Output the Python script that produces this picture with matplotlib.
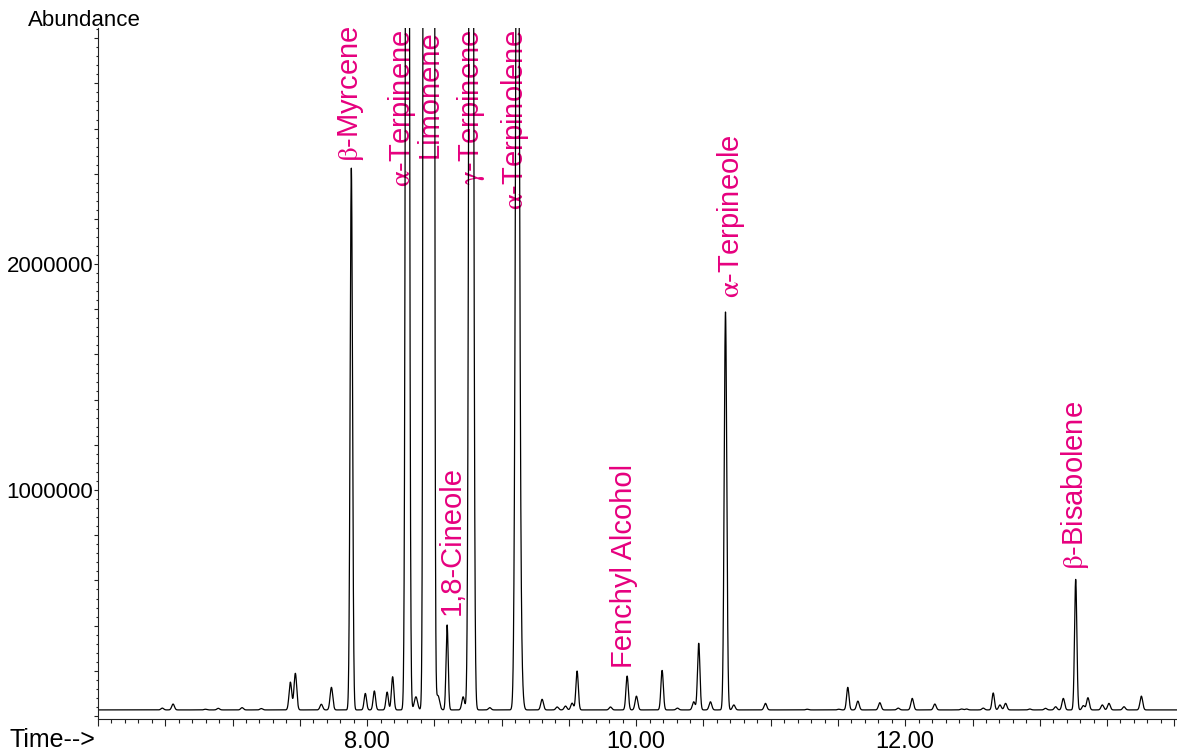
import numpy as np
import matplotlib.pyplot as plt
import matplotlib.transforms as mtransforms
from matplotlib.ticker import MultipleLocator, FuncFormatter

plt.rcParams['font.family'] = ['Liberation Sans', 'DejaVu Sans']
plt.rcParams['mathtext.fontset'] = 'stix'

# peak table: retention time (min), apex abundance, sigma (min)
peak_rt = [6.478, 6.558, 6.798, 6.894, 7.071, 7.214, 7.430, 7.467, 7.660, 7.735,
           7.883, 7.987, 8.054, 8.149, 8.190, 8.300, 8.363, 8.459, 8.527, 8.595,
           8.714, 8.774, 8.912, 9.118, 9.145, 9.301, 9.413, 9.475, 9.524, 9.561,
           9.809, 9.933, 10.002, 10.193, 10.307, 10.428, 10.465, 10.552, 10.664, 10.726,
           10.961, 11.271, 11.506, 11.573, 11.648, 11.811, 11.948, 12.052, 12.220, 12.419,
           12.456, 12.580, 12.654, 12.704, 12.746, 12.926, 13.043, 13.118, 13.175, 13.267,
           13.324, 13.358, 13.465, 13.514, 13.626, 13.755]
peak_abund = [35000, 53000, 30000, 34000, 37000, 33000, 150000, 189000, 52000, 127000,
              2425000, 100000, 111000, 106000, 174000, 9800000, 85000, 1.0e9, 90000, 403000,
              85000, 1.0e7, 37000, 4.9e6, 180000, 74000, 40000, 44000, 57000, 199000,
              40000, 177000, 88000, 202000, 35000, 63000, 322000, 63000, 1788000, 49000,
              56000, 30000, 30000, 127000, 66000, 59000, 35000, 78000, 53000, 31000,
              31000, 35000, 102000, 49000, 56000, 31000, 34000, 41000, 78000, 605000,
              46000, 81000, 49000, 56000, 41000, 88000]
peak_sigma = [0.010, 0.010, 0.010, 0.010, 0.010, 0.010, 0.010, 0.010, 0.010, 0.010,
              0.0088, 0.009, 0.009, 0.009, 0.009, 0.0104, 0.012, 0.013, 0.012, 0.008,
              0.010, 0.012, 0.010, 0.0128, 0.012, 0.010, 0.010, 0.010, 0.010, 0.009,
              0.010, 0.009, 0.010, 0.009, 0.010, 0.010, 0.009, 0.010, 0.0095, 0.010,
              0.010, 0.010, 0.010, 0.009, 0.010, 0.010, 0.010, 0.010, 0.010, 0.010,
              0.010, 0.010, 0.009, 0.010, 0.010, 0.010, 0.010, 0.010, 0.010, 0.0085,
              0.010, 0.010, 0.010, 0.010, 0.010, 0.010]
baseline = 27000

# labelled compounds
label_names = [r'$\mathrm{\beta}$-Myrcene', r'$\mathrm{\alpha}$-Terpinene', 'Limonene',
               '1,8-Cineole', r'$\mathrm{\gamma}$-Terpinene', r'$\mathrm{\alpha}$-Terpinolene',
               'Fenchyl Alcohol', r'$\mathrm{\alpha}$-Terpineole', r'$\mathrm{\beta}$-Bisabolene']
label_rt = [7.883, 8.300, 8.459, 8.595, 8.774, 9.118, 9.933, 10.664, 13.267]

# label tweaks in pixels (dx, gap above apex)
label_dx = [0, -5, 0.5, 5, 0, -2, -3, 6, -1]
label_gap = [6, 0, 0, 10, 0, 0, 8, 14, 9]

magenta = '#e6007e'
ymin, ymax = -11000, 3.045e6

t = np.linspace(6.0, 14.02, 12000)
signal = np.full_like(t, baseline, dtype=float)
for rt, a, s in zip(peak_rt, peak_abund, peak_sigma):
    signal += (a - baseline) * np.exp(-0.5 * ((t - rt) / s) ** 2)

fig = plt.figure(figsize=(11.77, 7.52), dpi=100)
ax = fig.add_axes([98 / 1177, (752 - 718.5) / 752, 1 - 98 / 1177, (718.5 - 28) / 752])

ax.plot(t, signal, color='black', lw=0.9, zorder=2)
ax.set_xlim(6.0, 14.02)
ax.set_ylim(ymin, ymax)

for sp in ['top', 'right']:
    ax.spines[sp].set_visible(False)
for sp in ['left', 'bottom']:
    ax.spines[sp].set_linewidth(0.8)
    ax.spines[sp].set_color('#222222')

ax.xaxis.set_major_locator(MultipleLocator(0.5))
ax.xaxis.set_minor_locator(MultipleLocator(0.1))
ax.xaxis.set_major_formatter(FuncFormatter(
    lambda v, pos: f"{v:.2f}" if abs(v - round(v / 2) * 2) < 1e-6 and 7 < v < 13 else ''))
ax.yaxis.set_major_locator(MultipleLocator(200000))
ax.yaxis.set_minor_locator(MultipleLocator(40000))
ax.yaxis.set_major_formatter(FuncFormatter(
    lambda v, pos: f"{int(round(v))}" if round(v) in (1000000, 2000000) else ''))

ax.tick_params(axis='x', which='major', length=5, width=0.8, labelsize=17, pad=4, color='#222222')
ax.tick_params(axis='x', which='minor', length=3, width=0.8, color='#222222')
ax.tick_params(axis='y', which='major', length=3, width=0.8, labelsize=16, pad=0.5, color='#222222')
ax.tick_params(axis='y', which='minor', length=1.5, width=0.8, color='#222222')

trans = mtransforms.blended_transform_factory(ax.transData, ax.transAxes)
for name, rt, dx, gap in zip(label_names, label_rt, label_dx, label_gap):
    apex = peak_abund[peak_rt.index(rt)]
    if apex > ymax:
        ax.annotate(name, xy=(rt, 0.997), xycoords=trans, xytext=(dx * 0.72, 0),
                    textcoords='offset points', rotation=90, ha='center', va='top',
                    color=magenta, fontsize=21, zorder=1)
    else:
        ax.annotate(name, xy=(rt, apex), xytext=(dx * 0.72, gap * 0.72),
                    textcoords='offset points', rotation=90, ha='center', va='bottom',
                    color=magenta, fontsize=21, zorder=1)

fig.text(28 / 1177, 1 - 20 / 752, 'Abundance', fontsize=16, ha='left', va='center')
fig.text(10 / 1177, 1 - 740 / 752, 'Time-->', fontsize=18, ha='left', va='center')

fig.savefig('out.png', dpi=100)
